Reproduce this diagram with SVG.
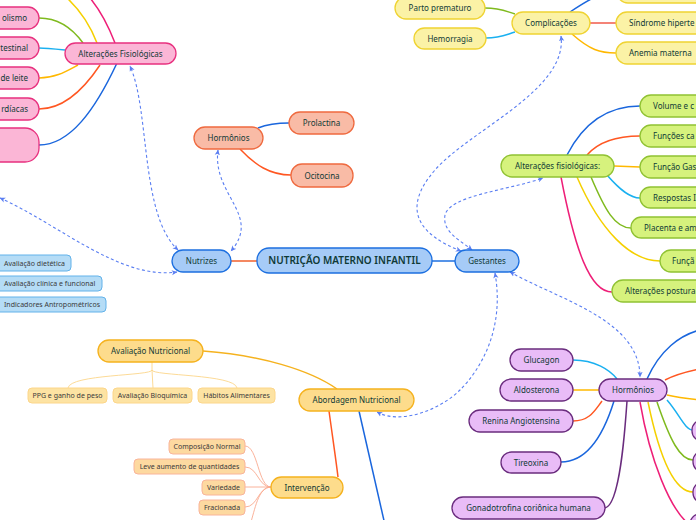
<svg xmlns="http://www.w3.org/2000/svg" width="696" height="520" viewBox="0 0 696 520">
<defs>
<style>
text{font-family:"Noto Sans","Open Sans","DejaVu Sans",sans-serif;fill:#0f3a36;}
.t{font-size:8px;text-anchor:middle;}
.ts{font-size:7px;text-anchor:middle;fill:#3a3a3a;}
.tsl{font-size:7px;text-anchor:start;fill:#3a3a3a;}
.tl{font-size:8px;}
.c{fill:none;stroke-width:1.5;}
.thin{fill:none;stroke-width:0.9;}
.rel{fill:none;stroke:#5a7ef2;stroke-width:1.1;stroke-dasharray:3 2.5;marker-start:url(#ar);marker-end:url(#ar);}
.blue{fill:#a6cbf7;stroke:#1c6fe0;stroke-width:1.3;}
.salmon{fill:#f9bba6;stroke:#ef6a3f;stroke-width:1.3;}
.pink{fill:#fbb6d6;stroke:#e8317f;stroke-width:1.3;}
.yel{fill:#fbf2a6;stroke:#efd332;stroke-width:1.3;}
.grn{fill:#d6f27d;stroke:#90c233;stroke-width:1.3;}
.pur{fill:#e9bcf7;stroke:#6a2c7e;stroke-width:1.3;}
.org{fill:#fddc8c;stroke:#f5b21e;stroke-width:1.3;}
.sorg{fill:#fde3a3;stroke:#fcd68a;stroke-width:1;}
.speach{fill:#fdd9a0;stroke:#f9b49a;stroke-width:1;}
.sblue{fill:#b5dcf6;stroke:#62b2ea;stroke-width:1;}
</style>
<marker id="ar" viewBox="0 0 8 8" refX="7" refY="4" markerWidth="6" markerHeight="6" orient="auto-start-reverse" markerUnits="userSpaceOnUse">
<path d="M0,0.5 L7.5,4 L0,7.5 L2,4 Z" fill="#5a7ef2"/>
</marker>
</defs>

<g id="connectors">
<path class="c" stroke="#f0602d" d="M231,261 L257,261"/>
<path class="c" stroke="#1c6fe0" d="M432,261 L455,261"/>
<path class="c" stroke="#f5d000" d="M97,43 C90,25 80,10 67,-2"/>
<path class="c" stroke="#ee1f78" d="M115,43 C108,25 100,10 90,-2"/>
<path class="c" stroke="#7fba1e" d="M83,43 C70,25 55,18 39,18"/>
<path class="c" stroke="#1ab0f0" d="M65,50 C55,49 45,48 39,48"/>
<path class="c" stroke="#ffb800" d="M78,65 C65,72 55,78 39,78"/>
<path class="c" stroke="#ff5722" d="M100,65 C80,95 60,109 39,109"/>
<path class="c" stroke="#1a66dd" d="M117,63 C95,110 70,145 39,145"/>
<path class="c" stroke="#1a66dd" d="M258,128 C268,124 275,123 289,123"/>
<path class="c" stroke="#ff5722" d="M240,149 C255,165 270,175 291,175"/>
<path class="c" stroke="#7fba1e" d="M485,8 C500,8 505,11 515,14"/>
<path class="c" stroke="#1ab0f0" d="M486,38 C500,38 505,35 515,32"/>
<path class="c" stroke="#1a66dd" d="M570,12 C585,2 600,-8 617,-8"/>
<path class="c" stroke="#f05a4a" d="M590,23 L616,23"/>
<path class="c" stroke="#ffb800" d="M572,34 C590,50 600,53 616,53"/>
<path class="c" stroke="#1a66dd" d="M567,155 C585,120 610,106 640,106"/>
<path class="c" stroke="#ff5722" d="M587,155 C600,140 620,136 640,136"/>
<path class="c" stroke="#ffb800" d="M614,166 L640,167"/>
<path class="c" stroke="#1ab0f0" d="M607,175 C620,190 630,198 640,198"/>
<path class="c" stroke="#7fba1e" d="M591,177 C605,210 615,228 631,228"/>
<path class="c" stroke="#f5d000" d="M577,177 C600,230 630,261 660,261"/>
<path class="c" stroke="#ee1f78" d="M561,177 C575,250 590,292 612,292"/>
<path class="c" stroke="#1ab0f0" d="M573,360 C595,360 610,370 617,379"/>
<path class="c" stroke="#ffb800" d="M573,390 L599,390"/>
<path class="c" stroke="#ff5722" d="M573,421 C590,421 595,410 602,401"/>
<path class="c" stroke="#1a66dd" d="M561,462 C590,462 605,430 614,401"/>
<path class="c" stroke="#6a2c7e" d="M605,508 C620,505 625,430 627,401"/>
<path class="c" stroke="#1a66dd" d="M647,379 C660,350 680,335 700,330"/>
<path class="c" stroke="#ff5722" d="M665,380 C675,375 685,372 700,369"/>
<path class="c" stroke="#ffb800" d="M667,395 C680,398 690,399 700,400"/>
<path class="c" stroke="#1ab0f0" d="M667,400 C680,415 685,430 693,430"/>
<path class="c" stroke="#7fba1e" d="M657,402 C670,440 680,460 693,460"/>
<path class="c" stroke="#f5d000" d="M648,402 C660,460 675,492 693,492"/>
<path class="c" stroke="#ee1f78" d="M640,402 C650,460 670,510 690,525"/>
<path class="c" stroke="#f5b21e" d="M203,351 C260,355 310,370 337,389"/>
<path class="thin" stroke="#fcd68a" d="M152,362 L152,370 C152,376 70,374 68,388 M152,370 L153,388 M152,370 C152,376 235,374 237,388"/>
<path class="c" stroke="#ff5722" d="M329,411 C333,440 336,460 338,477"/>
<path class="c" stroke="#1a66dd" d="M359,411 L385,525"/>
<path class="thin" stroke="#f9a98f" d="M271,487 C258,487 258,446 245,446 M271,487 C258,487 258,467 245,467 M271,487 L245,487 M271,487 C258,487 258,507 245,507 M271,487 C258,487 255,510 250,525"/>
<path class="rel" d="M178,250 C140,215 150,110 130,66"/>
<path class="rel" d="M218,150 C212,195 262,215 231,251"/>
<path class="rel" d="M0,198 C60,225 120,280 177,272"/>
<path class="rel" d="M461,251 C420,235 400,210 435,170 C470,130 568,90 561,36"/>
<path class="rel" d="M472,250 C460,240 442,232 445,215 C450,195 510,190 543,178"/>
<path class="rel" d="M510,272 C560,300 640,320 640,377"/>
<path class="rel" d="M495,273 C505,330 480,370 460,390 C440,410 400,425 377,412"/>
</g>

<g id="central"><rect class="blue" x="257" y="248" width="175" height="25" rx="12"/><text class="t" x="344.5" y="264" style="font-size:10px;font-weight:600">NUTRIÇÃO MATERNO INFANTIL</text></g>
<g id="nutrizes"><rect class="blue" x="172" y="250" width="59" height="22" rx="11"/><text class="t" x="201.5" y="264">Nutrizes</text></g>
<g id="gestantes"><rect class="blue" x="455" y="250" width="64" height="22" rx="11"/><text class="t" x="487" y="264">Gestantes</text></g>

<g id="hormonios-n"><rect class="salmon" x="194" y="127" width="69" height="22" rx="11"/><text class="t" x="228.5" y="141">Hormônios</text></g>
<g id="prolactina"><rect class="salmon" x="289" y="112" width="65" height="22" rx="11"/><text class="t" x="321.5" y="126">Prolactina</text></g>
<g id="ocitocina"><rect class="salmon" x="291" y="164" width="62" height="23" rx="11"/><text class="t" x="322" y="178.5">Ocitocina</text></g>

<g id="alt-fis-n"><rect class="pink" x="65" y="43" width="111" height="21" rx="10.5"/><text class="t" x="120.5" y="56.5">Alterações Fisiológicas</text></g>
<g id="p1"><rect class="pink" x="-30" y="7" width="69" height="22" rx="11"/><text class="tl" x="27" y="21" text-anchor="end">olismo</text></g>
<g id="p2"><rect class="pink" x="-30" y="37" width="69" height="22" rx="11"/><text class="tl" x="28" y="51" text-anchor="end">testinal</text></g>
<g id="p3"><rect class="pink" x="-30" y="67" width="69" height="22" rx="11"/><text class="tl" x="28" y="81" text-anchor="end">de leite</text></g>
<g id="p4"><rect class="pink" x="-30" y="98" width="69" height="22" rx="11"/><text class="tl" x="28" y="112" text-anchor="end">rdíacas</text></g>
<g id="p5"><rect class="pink" x="-30" y="128" width="69" height="34" rx="14"/></g>

<g id="complicacoes"><rect class="yel" x="512" y="12" width="78" height="22" rx="11"/><text class="t" x="551" y="26">Complicações</text></g>
<g id="parto"><rect class="yel" x="395" y="-3" width="90" height="22" rx="11"/><text class="t" x="440" y="11">Parto prematuro</text></g>
<g id="hemorragia"><rect class="yel" x="414" y="28" width="72" height="21" rx="10.5"/><text class="t" x="450" y="41.5">Hemorragia</text></g>
<g id="y-top"><rect class="yel" x="617" y="-19" width="100" height="22" rx="11"/></g>
<g id="sindrome"><rect class="yel" x="616" y="12" width="110" height="22" rx="11"/><text class="tl" x="629" y="26">Síndrome hiperte</text></g>
<g id="anemia"><rect class="yel" x="616" y="42" width="110" height="22" rx="11"/><text class="tl" x="629" y="56">Anemia materna</text></g>

<g id="alt-fis-g"><rect class="grn" x="501" y="155" width="113" height="22" rx="11"/><text class="t" x="557.5" y="169">Alterações fisiológicas:</text></g>
<g id="g1"><rect class="grn" x="640" y="95" width="90" height="22" rx="11"/><text class="tl" x="653" y="109">Volume e c</text></g>
<g id="g2"><rect class="grn" x="640" y="125" width="90" height="22" rx="11"/><text class="tl" x="653" y="139">Funções ca</text></g>
<g id="g3"><rect class="grn" x="640" y="156" width="90" height="22" rx="11"/><text class="tl" x="653" y="170">Função Gas</text></g>
<g id="g4"><rect class="grn" x="640" y="187" width="90" height="21" rx="10.5"/><text class="tl" x="653" y="200.5">Respostas I</text></g>
<g id="g5"><rect class="grn" x="631" y="217" width="90" height="21" rx="10.5"/><text class="tl" x="644" y="230.5">Placenta e am</text></g>
<g id="g6"><rect class="grn" x="660" y="250" width="90" height="22" rx="11"/><text class="tl" x="672" y="264">Funçã</text></g>
<g id="g7"><rect class="grn" x="612" y="280" width="110" height="22" rx="11"/><text class="tl" x="625" y="294">Alterações postura</text></g>

<g id="hormonios-g"><rect class="pur" x="599" y="379" width="68" height="22" rx="11"/><text class="t" x="633" y="393">Hormônios</text></g>
<g id="glucagon"><rect class="pur" x="510" y="349" width="63" height="22" rx="11"/><text class="t" x="541.5" y="363">Glucagon</text></g>
<g id="aldosterona"><rect class="pur" x="500" y="379" width="73" height="22" rx="11"/><text class="t" x="536.5" y="393">Aldosterona</text></g>
<g id="renina"><rect class="pur" x="469" y="410" width="104" height="22" rx="11"/><text class="t" x="521" y="424">Renina Angiotensina</text></g>
<g id="tireoxina"><rect class="pur" x="501" y="452" width="60" height="21" rx="10.5"/><text class="t" x="531" y="465.5">Tireoxina</text></g>
<g id="gonadotrofina"><rect class="pur" x="452" y="497" width="153" height="22" rx="11"/><text class="t" x="528.5" y="511">Gonadotrofina coriônica humana</text></g>
<g id="pr1"><rect class="pur" x="692" y="420" width="40" height="21" rx="10"/></g>
<g id="pr2"><rect class="pur" x="693" y="451" width="40" height="21" rx="10"/></g>
<g id="pr3"><rect class="pur" x="693" y="482" width="40" height="21" rx="10"/></g>
<g id="pr4"><rect class="pur" x="690" y="514" width="40" height="21" rx="10"/></g>

<g id="aval-nutri"><rect class="org" x="98" y="340" width="105" height="22" rx="11"/><text class="t" x="150.5" y="354">Avaliação Nutricional</text></g>
<g id="ppg"><rect class="sorg" x="28" y="388" width="79" height="15" rx="4"/><text class="ts" x="67.5" y="398">PPG e ganho de peso</text></g>
<g id="bioq"><rect class="sorg" x="113" y="388" width="79" height="15" rx="4"/><text class="ts" x="152.5" y="398">Avaliação Bioquímica</text></g>
<g id="habitos"><rect class="sorg" x="198" y="388" width="77" height="15" rx="4"/><text class="ts" x="236.5" y="398">Hábitos Alimentares</text></g>
<g id="abordagem"><rect class="org" x="299" y="389" width="115" height="22" rx="11"/><text class="t" x="356.5" y="403">Abordagem Nutricional</text></g>
<g id="intervencao"><rect class="org" x="271" y="477" width="72" height="21" rx="10.5"/><text class="t" x="307" y="490.5">Intervenção</text></g>
<g id="comp"><rect class="speach" x="169" y="439" width="76" height="15" rx="4"/><text class="ts" x="207" y="449">Composição Normal</text></g>
<g id="leve"><rect class="speach" x="134" y="459" width="111" height="15" rx="4"/><text class="ts" x="189.5" y="469">Leve aumento de quantidades</text></g>
<g id="variedade"><rect class="speach" x="202" y="480" width="43" height="15" rx="4"/><text class="ts" x="223.5" y="490">Variedade</text></g>
<g id="fracionada"><rect class="speach" x="199" y="500" width="46" height="15" rx="4"/><text class="ts" x="222" y="510">Fracionada</text></g>

<g id="b1"><rect class="sblue" x="-5" y="255" width="76" height="16" rx="4"/><text class="tsl" x="4" y="265.5">Avaliação dietética</text></g>
<g id="b2"><rect class="sblue" x="-5" y="276" width="107" height="15" rx="4"/><text class="tsl" x="4" y="286">Avaliação clínica e funcional</text></g>
<g id="b3"><rect class="sblue" x="-5" y="297" width="111" height="15" rx="4"/><text class="tsl" x="4" y="307">Indicadores Antropométricos</text></g>
</svg>
